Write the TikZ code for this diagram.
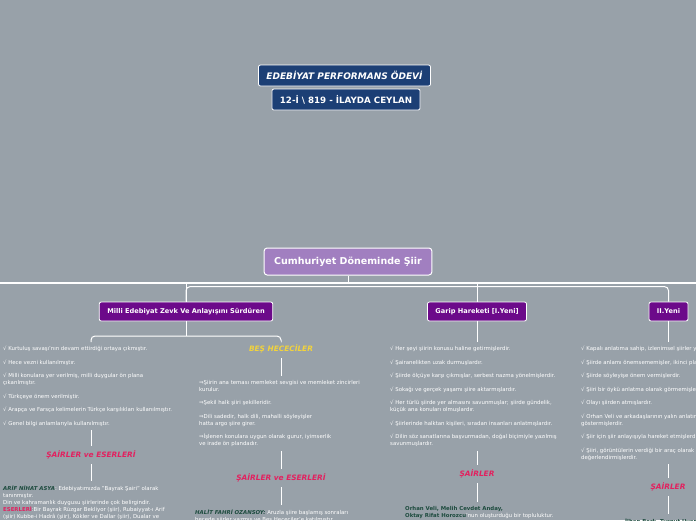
\documentclass[tikz,border=0pt]{standalone}
\usepackage{fontspec}
\setmainfont{DejaVu Sans}
\usetikzlibrary{positioning}

\definecolor{bgGrey}{HTML}{98A1A9}
\definecolor{titleBlue}{HTML}{1C3F75}
\definecolor{rootLilac}{HTML}{A17FC0}
\definecolor{branchPurple}{HTML}{6C0A8A}
\definecolor{headPink}{HTML}{E2215F}
\definecolor{headYellow}{HTML}{F2D33C}
\definecolor{nameGreen}{HTML}{1D4B3E}

\newcommand{\tinytext}{\fontsize{5.4}{7}\selectfont}

\begin{document}
\begin{tikzpicture}[x=1pt,y=-1pt,
  titlebox/.style={draw=white, fill=titleBlue, text=white, rounded corners=2pt,
    line width=0.8pt, minimum height=21pt, inner xsep=8pt},
  rootbox/.style={draw=white, fill=rootLilac, text=white, rounded corners=3pt,
    line width=1pt, minimum height=27pt, inner xsep=10pt,
    font=\fontsize{9.5}{11}\selectfont\bfseries},
  branchbox/.style={draw=white, fill=branchPurple, text=white, rounded corners=2pt,
    line width=0.8pt, minimum height=19pt, inner xsep=8pt,
    font=\fontsize{6.6}{8}\selectfont\bfseries},
  info/.style={text=white, align=left, anchor=north west, inner xsep=0pt,
    inner ysep=4pt, font=\tinytext},
  head/.style={font=\fontsize{7.4}{8}\selectfont\bfseries\itshape, inner ysep=5pt},
  link/.style={draw=white, line width=1pt},
  trunk/.style={draw=white, line width=1.8pt}
]

% Background
\useasboundingbox (0,0) rectangle (696,520);
\clip (0,0) rectangle (696,520);
\fill[bgGrey] (0,0) rectangle (696,520);

% Title
\node[titlebox, font=\fontsize{9}{10}\selectfont\bfseries\itshape] (title) at (344.5,75.5) {EDEBİYAT PERFORMANS ÖDEVİ};
\node[titlebox, font=\fontsize{8.7}{10}\selectfont\bfseries] (student) at (346,99.5) {12-İ \textbackslash{} 819 - İLAYDA CEYLAN};

% Root and trunk
\node[rootbox] (root) at (348,261.5) {Cumhuriyet Döneminde Şiir};
\coordinate (trunkL) at (0,283);
\coordinate (trunkR) at (696,283);
\draw[trunk] (trunkL) -- (trunkR);
\draw[link] (root.south) -- (root.south |- trunkL);

% Branches
\node[branchbox] (milli) at (186,311.5) {Milli Edebiyat Zevk Ve Anlayışını Sürdüren};
\node[branchbox] (garip) at (477,311.5) {Garip Hareketi [I.Yeni]};
\node[branchbox] (ikinci) at (668.5,311.5) {II.Yeni};
\draw[link] (milli.north) -- (milli.north |- trunkL);
\draw[link, rounded corners=4pt] (milli.north) -- ++(0,-15) -| (ikinci.north);
\draw[link] (garip.north) -- (garip.north |- trunkL);

% Milli Edebiyat
\node[info] (milliList) at (3,342) {√ Kurtuluş savaşı'nın devam ettirdiği ortaya çıkmıştır.\\[6.5pt]
√ Hece vezni kullanılmıştır.\\[6.5pt]
√ Milli konulara yer verilmiş, milli duygular ön plana\\
çıkarılmıştır.\\[6.5pt]
√ Türkçeye önem verilmiştir.\\[6.5pt]
√ Arapça ve Farsça kelimelerin Türkçe karşılıkları kullanılmıştır.\\[6.5pt]
√ Genel bilgi anlamlarıyla kullanılmıştır.};
\node[head, text=headPink] (sairMilli) at (91,455) {ŞAİRLER ve ESERLERİ};
\node[info] (arifText) at (3,481) {\textcolor{nameGreen}{\textbf{\textit{ARİF NİHAT ASYA}}}: Edebiyatımızda "Bayrak Şairi" olarak\\
tanınmıştır.\\
Din ve kahramanlık duygusu şiirlerinde çok belirgindir.\\
\textcolor{headPink}{\textbf{ESERLERİ}}:Bir Bayrak Rüzgar Bekliyor (şiir), Rubaiyyat-ı Arif\\
(şiir) Kubbe-i Hadrâ (şiir), Kökler ve Dallar (şiir), Dualar ve\\
Âmenler (şiir)};

\node[head, text=headYellow] (besHece) at (281,349) {BEŞ HECECİLER};
\node[info] (besList) at (199,376) {⇒Şiirin ana teması memleket sevgisi ve memleket zincirleri\\
kurulur.\\[6.5pt]
⇒Şekil halk şiiri şekilleridir.\\[6.5pt]
⇒Dili sadedir, halk dili, mahalli söyleyişler\\
hatta argo şiire girer.\\[6.5pt]
⇒İşlenen konulara uygun olarak gurur, iyimserlik\\
ve irade ön plandadır.};
\node[head, text=headPink] (sairBes) at (281,478) {ŞAİRLER ve ESERLERİ};
\node[info] (halitText) at (195,505) {\textcolor{nameGreen}{\textbf{\textit{HALİT FAHRİ OZANSOY:}}} Aruzla şiire başlamış sonraları\\
hecede şiirler yazmış ve Beş Hececiler'e katılmıştır.};

\coordinate (milliFork) at (186,336);
\draw[link] (milli.south) -- (milliFork);
\draw[link, rounded corners=4pt] (milliList.north -| sairMilli) |- (milliFork) -| (besHece.north);
\draw[link] (milliList.south -| sairMilli) -- (sairMilli);
\draw[link] (sairMilli) -- (arifText.north -| sairMilli);
\draw[link] (besHece) -- (besList.north -| besHece);
\draw[link] (besList.south -| sairBes) -- (sairBes);
\draw[link] (sairBes) -- (halitText.north -| sairBes);

% Garip Hareketi
\node[info] (garipList) at (390,342) {√ Her şeyi şiirin konusu haline getirmişlerdir.\\[6.5pt]
√ Şairanelikten uzak durmuşlardır.\\[6.5pt]
√ Şiirde ölçüye karşı çıkmışlar, serbest nazma yönelmişlerdir.\\[6.5pt]
√ Sokağı ve gerçek yaşamı şiire aktarmışlardır.\\[6.5pt]
√ Her türlü şiirde yer almasını savunmuşlar; şiirde gündelik,\\
küçük ana konuları olmuşlardır.\\[6.5pt]
√ Şiirlerinde halktan kişileri, sıradan insanları anlatmışlardır.\\[6.5pt]
√ Dilin söz sanatlarına başvurmadan, doğal biçimiyle yazılmış\\
savunmuşlardır.};
\node[head, text=headPink] (sairGarip) at (477,474) {ŞAİRLER};
\node[info] (garipPoets) at (405,502) {\textcolor{nameGreen}{\textbf{Orhan Veli, Melih Cevdet Anday,}}\\
\textcolor{nameGreen}{\textbf{Oktay Rifat Horozcu}}'nun oluşturduğu bir topluluktur.};
\draw[link] (garip) -- (garipList.north -| garip);
\draw[link] (garipList.south -| sairGarip) -- (sairGarip);
\draw[link] (sairGarip) -- (garipPoets.north -| sairGarip);

% II. Yeni
\node[info] (ikinciList) at (581,342) {√ Kapalı anlatıma sahip, izlenimsel şiirler yazmışlardır.\\[6.5pt]
√ Şiirde anlamı önemsememişler, ikinci plana atmışlardır.\\[6.5pt]
√ Şiirde söyleyişe önem vermişlerdir.\\[6.5pt]
√ Şiiri bir öykü anlatma olarak görmemişlerdir.\\[6.5pt]
√ Olayı şiirden atmışlardır.\\[6.5pt]
√ Orhan Veli ve arkadaşlarının yalın anlatımına tepki\\
göstermişlerdir.\\[6.5pt]
√ Şiir için şiir anlayışıyla hareket etmişlerdir.\\[6.5pt]
√ Şiiri, görüntülerin verdiği bir araç olarak\\
değerlendirmişlerdir.};
\node[head, text=headPink] (sairIkinci) at (668,487) {ŞAİRLER};
\node[info] (ikinciPoets) at (625,514) {\textcolor{nameGreen}{\textbf{İlhan Berk, Turgut Uyar,}}};
\draw[link] (ikinci) -- (ikinciList.north -| ikinci);
\draw[link] (ikinciList.south -| sairIkinci) -- (sairIkinci);
\draw[link] (sairIkinci) -- (ikinciPoets.north -| sairIkinci);

\end{tikzpicture}
\end{document}
